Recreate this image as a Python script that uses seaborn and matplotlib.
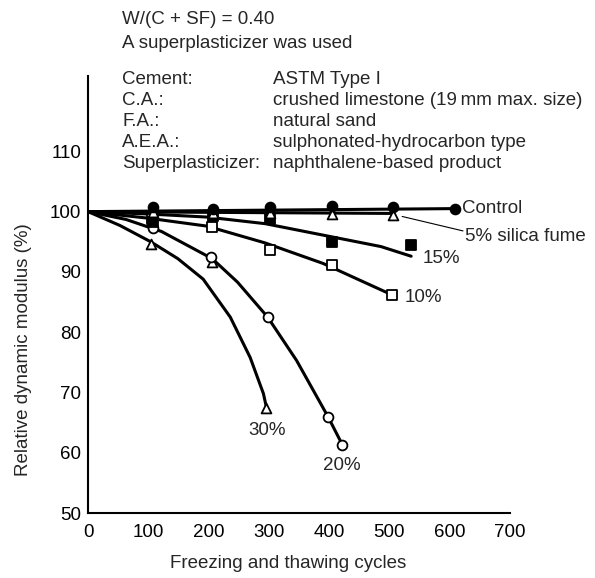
import matplotlib.pyplot as plt
import pandas as pd
import seaborn as sns

# marker readings (cycles, relative dynamic modulus %)
CONTROL_X = [0, 108, 207, 302, 405, 506, 609]
CONTROL_Y = [100, 100.7, 100.5, 100.7, 100.9, 100.8, 100.5]
SF5_X = [0, 108, 207, 302, 405, 506]
SF5_Y = [100, 99.9, 99.8, 99.7, 99.6, 99.5]
SF10_X = [0, 106, 206, 302, 405, 504]
SF10_Y = [100, 98.8, 97.5, 93.7, 91.2, 86.2]
SF15_X = [0, 108, 207, 302, 405, 536]
SF15_Y = [100, 98.2, 99.2, 98.7, 95.0, 94.5]
SF20_X = [0, 108, 204, 298, 398, 422]
SF20_Y = [100, 97.2, 92.5, 82.5, 66.0, 61.3]
SF30_X = [0, 104, 206, 296]
SF30_Y = [100, 94.7, 91.7, 67.5]

# hand-drawn curves
CONTROL_LINE_X = [0, 609]
CONTROL_LINE_Y = [100, 100.5]
SF5_LINE_X = [0, 506]
SF5_LINE_Y = [100, 99.7]
SF10_LINE_X = [0, 101, 197, 294, 390, 504]
SF10_LINE_Y = [100, 98.9, 97.6, 94.8, 91.4, 86.2]
SF15_LINE_X = [0, 101, 197, 294, 390, 486, 536]
SF15_LINE_Y = [100, 99.6, 99.1, 98.0, 96.1, 94.2, 92.6]
SF20_LINE_X = [0, 63, 122, 206, 248, 298, 346, 398, 422]
SF20_LINE_Y = [100, 98.7, 96.7, 92.2, 88.3, 82.5, 75.3, 66.0, 61.3]
SF30_LINE_X = [0, 53, 104, 149, 191, 236, 269, 291, 296]
SF30_LINE_Y = [100, 97.7, 95.0, 92.2, 88.8, 82.5, 75.8, 69.8, 67.5]

X_TICKS = [0, 100, 200, 300, 400, 500, 600, 700]
Y_TICKS = [50, 60, 70, 80, 90, 100, 110]

INFO_KEYS = ["Cement:", "C.A.:", "F.A.:", "A.E.A.:", "Superplasticizer:"]
INFO_VALUES = ["ASTM Type I", "crushed limestone (19\u2009mm max. size)",
               "natural sand", "sulphonated-hydrocarbon type",
               "naphthalene-based product"]

FS = 13.5

sns.set_theme(style="white")
plt.rcParams["font.family"] = ["Liberation Sans", "DejaVu Sans"]

W, H = 595, 578
fig = plt.figure(figsize=(W / 100, H / 100), dpi=100)
ax = fig.add_axes([88 / W, 1 - 513 / H, 422 / W, 437 / H])

# (markers x, markers y, line x, line y, marker, fill)
series = [
    (SF30_X, SF30_Y, SF30_LINE_X, SF30_LINE_Y, "^", "white"),
    (SF20_X, SF20_Y, SF20_LINE_X, SF20_LINE_Y, "o", "white"),
    (SF10_X, SF10_Y, SF10_LINE_X, SF10_LINE_Y, "s", "white"),
    (SF15_X, SF15_Y, SF15_LINE_X, SF15_LINE_Y, "s", "black"),
    (SF5_X, SF5_Y, SF5_LINE_X, SF5_LINE_Y, "^", "white"),
    (CONTROL_X, CONTROL_Y, CONTROL_LINE_X, CONTROL_LINE_Y, "o", "black"),
]

for mx, my, lx, ly, mk, fc in series:
    line_df = pd.DataFrame({"x": lx, "y": ly})
    sns.lineplot(data=line_df, x="x", y="y", ax=ax, color="black",
                 linewidth=2.2, sort=False, estimator=None)
    pts = pd.DataFrame({"x": mx[1:], "y": my[1:]})
    sns.scatterplot(data=pts, x="x", y="y", ax=ax, marker=mk, s=50,
                    facecolor=fc, edgecolor="black", linewidth=1.3,
                    zorder=4)

ax.set_xlim(0, 700)
ax.set_ylim(50, 122.5)
ax.set_xticks(X_TICKS)
ax.set_yticks(Y_TICKS)
ax.tick_params(direction="in", length=9, width=1.2, labelsize=FS,
               colors="black", pad=5)
ax.tick_params(axis="x", pad=8)
for side in ["top", "right"]:
    ax.spines[side].set_visible(False)
for side in ["left", "bottom"]:
    ax.spines[side].set_linewidth(1.5)
    ax.spines[side].set_color("black")

ax.set_xlabel("Freezing and thawing cycles", fontsize=FS)
ax.set_ylabel("Relative dynamic modulus (%)", fontsize=FS)
ax.xaxis.set_label_coords(0.474, -0.097)
ax.yaxis.set_label_coords(-0.132, 0.373)

# curve labels
ax.text(621, 100.5, "Control", fontsize=FS, va="center")
ax.text(626, 95.8, "5% silica fume", fontsize=FS, va="center")
ax.plot([521, 622], [99.2, 96.8], color="black", linewidth=0.8)
ax.text(555, 92.2, "15%", fontsize=FS, va="center")
ax.text(525, 85.8, "10%", fontsize=FS, va="center")
ax.text(266, 63.7, "30%", fontsize=FS, va="center")
ax.text(390, 57.8, "20%", fontsize=FS, va="center")

# header notes
fig.text(122 / W, 1 - 19 / H, "W/(C + SF) = 0.40", fontsize=FS, va="center")
fig.text(122 / W, 1 - 43 / H, "A superplasticizer was used", fontsize=FS,
         va="center")
for i, (k, v) in enumerate(zip(INFO_KEYS, INFO_VALUES)):
    y = 1 - (79 + 21.2 * i) / H
    fig.text(122 / W, y, k, fontsize=FS, va="center")
    fig.text(273 / W, y, v, fontsize=FS, va="center")

fig.savefig("out.png", dpi=100)
